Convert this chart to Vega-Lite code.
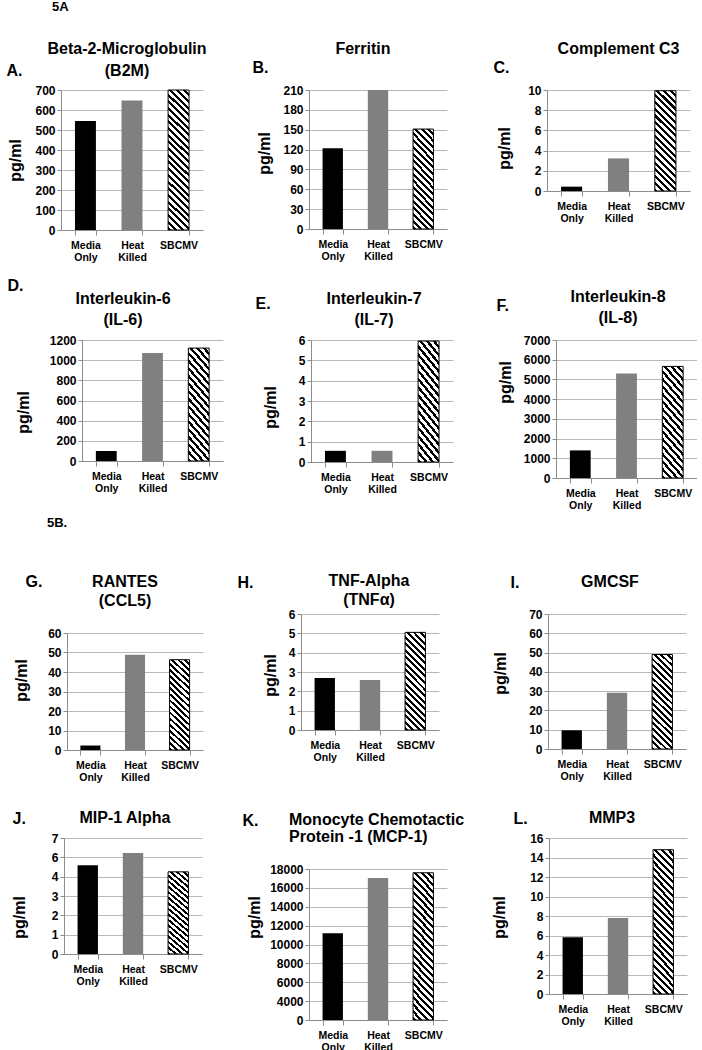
{
"$schema": "https://vega.github.io/schema/vega-lite/v6.json",
"autosize": {"type": "pad"},
"padding": {"left": 0, "top": 1, "right": 0, "bottom": 0},
"datasets": {"d": [
{"p":"A","g":"Media Only","v":545},{"p":"A","g":"Heat Killed","v":648},{"p":"A","g":"SBCMV","v":700},
{"p":"B","g":"Media Only","v":122},{"p":"B","g":"Heat Killed","v":210},{"p":"B","g":"SBCMV","v":151},
{"p":"C","g":"Media Only","v":0.43},{"p":"C","g":"Heat Killed","v":3.23},{"p":"C","g":"SBCMV","v":9.93},
{"p":"D","g":"Media Only","v":99},{"p":"D","g":"Heat Killed","v":1071},{"p":"D","g":"SBCMV","v":1120},
{"p":"E","g":"Media Only","v":0.55},{"p":"E","g":"Heat Killed","v":0.55},{"p":"E","g":"SBCMV","v":5.95},
{"p":"F","g":"Media Only","v":1400},{"p":"F","g":"Heat Killed","v":5300},{"p":"F","g":"SBCMV","v":5660},
{"p":"G","g":"Media Only","v":2.3},{"p":"G","g":"Heat Killed","v":48.9},{"p":"G","g":"SBCMV","v":46.3},
{"p":"H","g":"Media Only","v":2.69},{"p":"H","g":"Heat Killed","v":2.59},{"p":"H","g":"SBCMV","v":5.05},
{"p":"I","g":"Media Only","v":9.7},{"p":"I","g":"Heat Killed","v":29.2},{"p":"I","g":"SBCMV","v":49.0},
{"p":"J","g":"Media Only","v":4.59},{"p":"J","g":"Heat Killed","v":5.22},{"p":"J","g":"SBCMV","v":4.25},
{"p":"K","g":"Media Only","v":11200},{"p":"K","g":"Heat Killed","v":17050},{"p":"K","g":"SBCMV","v":17600},
{"p":"L","g":"Media Only","v":5.81},{"p":"L","g":"Heat Killed","v":7.8},{"p":"L","g":"SBCMV","v":14.8}
]},
"columns": 6,
"bounds": "flush",
"align": "each",
"spacing": {"row": 88, "column": 0},
"concat": [
{"width": 61, "height": 162, "data": {"values": []}, "mark": "point", "title": {"text": "5A", "anchor": "start", "dx": 52, "offset": 76, "fontSize": 13}},
{"width": 142, "height": 140, "title": {"text": ["Beta-2-Microglobulin", "(B2M)"], "dx": -5, "offset": -17, "lineHeight": 22},
 "data": {"name": "d"}, "transform": [{"filter": "datum.p == 'A'"}],
 "encoding": {
  "x": {"field": "g", "type": "nominal", "scale": {"domain": ["Media Only", "Heat Killed", "SBCMV"], "paddingInner": 0.55, "paddingOuter": 0.3}, "axis": {"title": "A.", "titleX": -55, "titleY": -160, "labelExpr": "split(datum.label, ' ')"}},
  "y": {"field": "v", "type": "quantitative", "scale": {"domain": [0, 700], "nice": false}, "axis": {"title": "pg/ml", "titleX": -46, "titleY": 70, "values": [0, 100, 200, 300, 400, 500, 600, 700]}}},
 "layer": [
  {"transform": [{"filter": "datum.g != 'SBCMV'"}], "mark": "bar", "encoding": {"color": {"field": "g", "type": "nominal", "scale": {"domain": ["Media Only", "Heat Killed"], "range": ["#000000", "#808080"]}, "legend": null}}},
  {"transform": [{"filter": "datum.g == 'SBCMV'"}], "mark": {"type": "bar", "style": "hatchA"}}]},
{"width": 78, "height": 1, "data": {"values": []}, "mark": "point"},
{"width": 146, "height": 139, "title": {"text": "Ferritin", "dx": -11, "offset": 2},
 "data": {"name": "d"}, "transform": [{"filter": "datum.p == 'B'"}],
 "encoding": {
  "x": {"field": "g", "type": "nominal", "scale": {"domain": ["Media Only", "Heat Killed", "SBCMV"], "paddingInner": 0.55, "paddingOuter": 0.3, "range": [8, 146]}, "axis": {"title": "B.", "titleX": -49, "titleY": -162, "labelExpr": "split(datum.label, ' ')"}},
  "y": {"field": "v", "type": "quantitative", "scale": {"domain": [0, 210], "nice": false}, "axis": {"offset": -8, "title": "pg/ml", "titleX": -45, "titleY": 63, "values": [0, 30, 60, 90, 120, 150, 180, 210]}}},
 "layer": [
  {"transform": [{"filter": "datum.g != 'SBCMV'"}], "mark": "bar", "encoding": {"color": {"field": "g", "type": "nominal", "scale": {"domain": ["Media Only", "Heat Killed"], "range": ["#000000", "#808080"]}, "legend": null}}},
  {"transform": [{"filter": "datum.g == 'SBCMV'"}], "mark": {"type": "bar", "style": "hatchB"}}]},
{"width": 94, "height": 1, "data": {"values": []}, "mark": "point"},
{"width": 143, "height": 101, "title": {"text": "Complement C3", "dx": 0, "offset": 2},
 "data": {"name": "d"}, "transform": [{"filter": "datum.p == 'C'"}],
 "encoding": {
  "x": {"field": "g", "type": "nominal", "scale": {"domain": ["Media Only", "Heat Killed", "SBCMV"], "paddingInner": 0.55, "paddingOuter": 0.3}, "axis": {"title": "C.", "titleX": -54, "titleY": -124, "labelExpr": "split(datum.label, ' ')"}},
  "y": {"field": "v", "type": "quantitative", "scale": {"domain": [0, 10], "nice": false}, "axis": {"title": "pg/ml", "titleX": -43, "titleY": 58, "values": [0, 2, 4, 6, 8, 10]}}},
 "layer": [
  {"transform": [{"filter": "datum.g != 'SBCMV'"}], "mark": "bar", "encoding": {"color": {"field": "g", "type": "nominal", "scale": {"domain": ["Media Only", "Heat Killed"], "range": ["#000000", "#808080"]}, "legend": null}}},
  {"transform": [{"filter": "datum.g == 'SBCMV'"}], "mark": {"type": "bar", "style": "hatchB"}}]},

{"width": 61, "height": 186, "data": {"values": []}, "mark": "point"},
{"width": 162, "height": 121, "title": {"text": ["Interleukin-6", "(IL-6)"], "dx": -19, "offset": -51, "lineHeight": 21},
 "data": {"name": "d"}, "transform": [{"filter": "datum.p == 'D'"}],
 "encoding": {
  "x": {"field": "g", "type": "nominal", "scale": {"domain": ["Media Only", "Heat Killed", "SBCMV"], "paddingInner": 0.55, "paddingOuter": 0.3, "range": [21, 162]}, "axis": {"title": "D.", "titleX": -54, "titleY": -176, "labelExpr": "split(datum.label, ' ')"}},
  "y": {"field": "v", "type": "quantitative", "scale": {"domain": [0, 1200], "nice": false}, "axis": {"offset": -21, "title": "pg/ml", "titleX": -59, "titleY": 72, "values": [0, 200, 400, 600, 800, 1000, 1200]}}},
 "layer": [
  {"transform": [{"filter": "datum.g != 'SBCMV'"}], "mark": "bar", "encoding": {"color": {"field": "g", "type": "nominal", "scale": {"domain": ["Media Only", "Heat Killed"], "range": ["#000000", "#808080"]}, "legend": null}}},
  {"transform": [{"filter": "datum.g == 'SBCMV'"}], "mark": {"type": "bar", "style": "hatchB"}}]},
{"width": 78, "height": 1, "data": {"values": []}, "mark": "point"},
{"width": 152, "height": 122, "title": {"text": ["Interleukin-7", "(IL-7)"], "dx": -3, "offset": -33, "lineHeight": 21},
 "data": {"name": "d"}, "transform": [{"filter": "datum.p == 'E'"}],
 "encoding": {
  "x": {"field": "g", "type": "nominal", "scale": {"domain": ["Media Only", "Heat Killed", "SBCMV"], "paddingInner": 0.55, "paddingOuter": 0.3, "range": [10, 152]}, "axis": {"title": "E.", "titleX": -46, "titleY": -159, "labelExpr": "split(datum.label, ' ')"}},
  "y": {"field": "v", "type": "quantitative", "scale": {"domain": [0, 6], "nice": false}, "axis": {"offset": -10, "title": "pg/ml", "titleX": -41, "titleY": 67, "values": [0, 1, 2, 3, 4, 5, 6]}}},
 "layer": [
  {"transform": [{"filter": "datum.g != 'SBCMV'"}], "mark": "bar", "encoding": {"color": {"field": "g", "type": "nominal", "scale": {"domain": ["Media Only", "Heat Killed"], "range": ["#000000", "#808080"]}, "legend": null}}},
  {"transform": [{"filter": "datum.g == 'SBCMV'"}], "mark": {"type": "bar", "style": "hatchB"}}]},
{"width": 94, "height": 1, "data": {"values": []}, "mark": "point"},
{"width": 150, "height": 138, "title": {"text": ["Interleukin-8", "(IL-8)"], "dx": -4, "offset": -29, "lineHeight": 21},
 "data": {"name": "d"}, "transform": [{"filter": "datum.p == 'F'"}],
 "encoding": {
  "x": {"field": "g", "type": "nominal", "scale": {"domain": ["Media Only", "Heat Killed", "SBCMV"], "paddingInner": 0.55, "paddingOuter": 0.3, "range": [9, 150]}, "axis": {"title": "F.", "titleX": -51, "titleY": -173, "labelExpr": "split(datum.label, ' ')"}},
  "y": {"field": "v", "type": "quantitative", "scale": {"domain": [0, 7000], "nice": false}, "axis": {"offset": -9, "title": "pg/ml", "titleX": -51, "titleY": 42, "values": [0, 1000, 2000, 3000, 4000, 5000, 6000, 7000]}}},
 "layer": [
  {"transform": [{"filter": "datum.g != 'SBCMV'"}], "mark": "bar", "encoding": {"color": {"field": "g", "type": "nominal", "scale": {"domain": ["Media Only", "Heat Killed"], "range": ["#000000", "#808080"]}, "legend": null}}},
  {"transform": [{"filter": "datum.g == 'SBCMV'"}], "mark": {"type": "bar", "style": "hatchB"}}]},

{"width": 61, "height": 1, "data": {"values": []}, "mark": "point", "title": {"text": "5B.", "anchor": "start", "dx": 47, "offset": 84, "fontSize": 13}},
{"width": 142, "height": 136, "title": {"text": ["RANTES", "(CCL5)"], "dx": -7, "offset": -36, "lineHeight": 19},
 "data": {"name": "d"}, "transform": [{"filter": "datum.p == 'G'"}],
 "encoding": {
  "x": {"field": "g", "type": "nominal", "scale": {"domain": ["Media Only", "Heat Killed", "SBCMV"], "paddingInner": 0.55, "paddingOuter": 0.3, "range": [6, 142]}, "axis": {"title": "G.", "titleX": -36, "titleY": -169, "labelExpr": "split(datum.label, ' ')"}},
  "y": {"field": "v", "type": "quantitative", "scale": {"domain": [0, 60], "nice": false, "range": [136, 19]}, "axis": {"offset": -6, "title": "pg/ml", "titleX": -46, "titleY": 66, "values": [0, 10, 20, 30, 40, 50, 60]}}},
 "layer": [
  {"transform": [{"filter": "datum.g != 'SBCMV'"}], "mark": "bar", "encoding": {"color": {"field": "g", "type": "nominal", "scale": {"domain": ["Media Only", "Heat Killed"], "range": ["#000000", "#808080"]}, "legend": null}}},
  {"transform": [{"filter": "datum.g == 'SBCMV'"}], "mark": {"type": "bar", "style": "hatchB"}}]},
{"width": 78, "height": 1, "data": {"values": []}, "mark": "point"},
{"width": 138, "height": 116, "title": {"text": ["TNF-Alpha", "(TNFα)"], "dx": -1, "offset": -34, "lineHeight": 19},
 "data": {"name": "d"}, "transform": [{"filter": "datum.p == 'H'"}],
 "encoding": {
  "x": {"field": "g", "type": "nominal", "scale": {"domain": ["Media Only", "Heat Killed", "SBCMV"], "paddingInner": 0.55, "paddingOuter": 0.3}, "axis": {"title": "H.", "titleX": -64, "titleY": -148, "labelExpr": "split(datum.label, ' ')"}},
  "y": {"field": "v", "type": "quantitative", "scale": {"domain": [0, 6], "nice": false}, "axis": {"title": "pg/ml", "titleX": -31, "titleY": 61, "values": [0, 1, 2, 3, 4, 5, 6]}}},
 "layer": [
  {"transform": [{"filter": "datum.g != 'SBCMV'"}], "mark": "bar", "encoding": {"color": {"field": "g", "type": "nominal", "scale": {"domain": ["Media Only", "Heat Killed"], "range": ["#000000", "#808080"]}, "legend": null}}},
  {"transform": [{"filter": "datum.g == 'SBCMV'"}], "mark": {"type": "bar", "style": "hatchB"}}]},
{"width": 94, "height": 1, "data": {"values": []}, "mark": "point"},
{"width": 139, "height": 135, "title": {"text": "GMCSF", "dx": -6.5, "offset": -16},
 "data": {"name": "d"}, "transform": [{"filter": "datum.p == 'I'"}],
 "encoding": {
  "x": {"field": "g", "type": "nominal", "scale": {"domain": ["Media Only", "Heat Killed", "SBCMV"], "paddingInner": 0.55, "paddingOuter": 0.3, "range": [1, 139]}, "axis": {"title": "I.", "titleX": -37, "titleY": -167, "labelExpr": "split(datum.label, ' ')"}},
  "y": {"field": "v", "type": "quantitative", "scale": {"domain": [0, 70], "nice": false}, "axis": {"offset": -1, "title": "pg/ml", "titleX": -48, "titleY": 59, "values": [0, 10, 20, 30, 40, 50, 60, 70]}}},
 "layer": [
  {"transform": [{"filter": "datum.g != 'SBCMV'"}], "mark": "bar", "encoding": {"color": {"field": "g", "type": "nominal", "scale": {"domain": ["Media Only", "Heat Killed"], "range": ["#000000", "#808080"]}, "legend": null}}},
  {"transform": [{"filter": "datum.g == 'SBCMV'"}], "mark": {"type": "bar", "style": "hatchB"}}]},

{"width": 61, "height": 1, "data": {"values": []}, "mark": "point"},
{"width": 141, "height": 116, "title": {"text": "MIP-1 Alpha", "dx": -6.5, "offset": -16},
 "data": {"name": "d"}, "transform": [{"filter": "datum.p == 'J'"}],
 "encoding": {
  "x": {"field": "g", "type": "nominal", "scale": {"domain": ["Media Only", "Heat Killed", "SBCMV"], "paddingInner": 0.55, "paddingOuter": 0.3, "range": [3, 141]}, "axis": {"title": "J.", "titleX": -49, "titleY": -136, "labelExpr": "split(datum.label, ' ')"}},
  "y": {"field": "v", "type": "quantitative", "scale": {"domain": [0, 6], "nice": false}, "axis": {"offset": -3, "title": "pg/ml", "titleX": -45, "titleY": 79, "values": [0, 1, 2, 3, 4, 5, 6], "labelExpr": "datum.value == 5 ? '6' : datum.value == 6 ? '7' : datum.label"}}},
 "layer": [
  {"transform": [{"filter": "datum.g != 'SBCMV'"}], "mark": "bar", "encoding": {"color": {"field": "g", "type": "nominal", "scale": {"domain": ["Media Only", "Heat Killed"], "range": ["#000000", "#808080"]}, "legend": null}}},
  {"transform": [{"filter": "datum.g == 'SBCMV'"}], "mark": {"type": "bar", "style": "hatchB"}}]},
{"width": 78, "height": 1, "data": {"values": []}, "mark": "point"},
{"width": 146, "height": 182, "title": {"text": ["Monocyte Chemotactic", "Protein -1 (MCP-1)"], "anchor": "start", "align": "left", "dx": -12, "offset": -33, "lineHeight": 17},
 "data": {"name": "d"}, "transform": [{"filter": "datum.p == 'K'"}],
 "encoding": {
  "x": {"field": "g", "type": "nominal", "scale": {"domain": ["Media Only", "Heat Killed", "SBCMV"], "paddingInner": 0.55, "paddingOuter": 0.3, "range": [8, 146]}, "axis": {"title": "K.", "titleX": -59, "titleY": -200, "labelExpr": "split(datum.label, ' ')"}},
  "y": {"field": "v", "type": "quantitative", "scale": {"domain": [2000, 18000], "nice": false, "zero": false, "range": [182, 31]}, "axis": {"offset": -8, "title": "pg/ml", "titleX": -55, "titleY": 79, "values": [2000, 4000, 6000, 8000, 10000, 12000, 14000, 16000, 18000], "labelExpr": "datum.value == 2000 ? '0' : datum.label"}},
  "y2": {"datum": 2000}},
 "layer": [
  {"transform": [{"filter": "datum.g != 'SBCMV'"}], "mark": "bar", "encoding": {"color": {"field": "g", "type": "nominal", "scale": {"domain": ["Media Only", "Heat Killed"], "range": ["#000000", "#808080"]}, "legend": null}}},
  {"transform": [{"filter": "datum.g == 'SBCMV'"}], "mark": {"type": "bar", "style": "hatchA"}}]},
{"width": 94, "height": 1, "data": {"values": []}, "mark": "point"},
{"width": 140, "height": 156, "title": {"text": "MMP3", "dx": -5, "offset": -16},
 "data": {"name": "d"}, "transform": [{"filter": "datum.p == 'L'"}],
 "encoding": {
  "x": {"field": "g", "type": "nominal", "scale": {"domain": ["Media Only", "Heat Killed", "SBCMV"], "paddingInner": 0.55, "paddingOuter": 0.3, "range": [2, 140]}, "axis": {"title": "L.", "titleX": -34, "titleY": -176, "labelExpr": "split(datum.label, ' ')"}},
  "y": {"field": "v", "type": "quantitative", "scale": {"domain": [0, 16], "nice": false}, "axis": {"offset": -2, "title": "pg/ml", "titleX": -50, "titleY": 79, "values": [0, 2, 4, 6, 8, 10, 12, 14, 16]}}},
 "layer": [
  {"transform": [{"filter": "datum.g != 'SBCMV'"}], "mark": "bar", "encoding": {"color": {"field": "g", "type": "nominal", "scale": {"domain": ["Media Only", "Heat Killed"], "range": ["#000000", "#808080"]}, "legend": null}}},
  {"transform": [{"filter": "datum.g == 'SBCMV'"}], "mark": {"type": "bar", "style": "hatchA"}}]}
],
"config": {
 "view": {"stroke": null},
 "font": "Liberation Sans",
 "numberFormat": "d",
 "title": {"font": "Liberation Sans", "fontSize": 16, "fontWeight": "bold", "color": "#000000", "anchor": "middle", "frame": "group"},
 "axis": {"labelFont": "Liberation Sans", "labelFontWeight": "bold", "labelColor": "#000000", "titleFont": "Liberation Sans", "titleFontWeight": "bold", "titleColor": "#000000", "domainColor": "#8c8c8c", "tickColor": "#8c8c8c", "gridColor": "#b8b8b8"},
 "axisY": {"labelFontSize": 12, "titleFontSize": 16, "tickSize": 4, "labelPadding": 2, "titleAngle": -90, "titleBaseline": "middle", "titleAlign": "center", "grid": true},
 "axisX": {"labelFontSize": 10.5, "labelAngle": 0, "labelLineHeight": 12.5, "tickBand": "extent", "tickSize": 5, "labelPadding": 5, "titleFontSize": 16, "titleAngle": 0, "titleAlign": "left", "titleBaseline": "middle", "grid": false},
 "style": {
  "hatchA": {"stroke": "#000000", "strokeWidth": 1, "color": {"gradient": "linear", "x1": 0, "y1": 1, "x2": 0.1649, "y2": -0.1227, "stops": [
   {"offset":0,"color":"#000"},{"offset":0.0188,"color":"#000"},{"offset":0.0188,"color":"#fff"},{"offset":0.0417,"color":"#fff"},
   {"offset":0.0417,"color":"#000"},{"offset":0.0604,"color":"#000"},{"offset":0.0604,"color":"#fff"},{"offset":0.0833,"color":"#fff"},
   {"offset":0.0833,"color":"#000"},{"offset":0.1021,"color":"#000"},{"offset":0.1021,"color":"#fff"},{"offset":0.125,"color":"#fff"},
   {"offset":0.125,"color":"#000"},{"offset":0.1438,"color":"#000"},{"offset":0.1438,"color":"#fff"},{"offset":0.1667,"color":"#fff"},
   {"offset":0.1667,"color":"#000"},{"offset":0.1854,"color":"#000"},{"offset":0.1854,"color":"#fff"},{"offset":0.2083,"color":"#fff"},
   {"offset":0.2083,"color":"#000"},{"offset":0.2271,"color":"#000"},{"offset":0.2271,"color":"#fff"},{"offset":0.25,"color":"#fff"},
   {"offset":0.25,"color":"#000"},{"offset":0.2688,"color":"#000"},{"offset":0.2688,"color":"#fff"},{"offset":0.2917,"color":"#fff"},
   {"offset":0.2917,"color":"#000"},{"offset":0.3104,"color":"#000"},{"offset":0.3104,"color":"#fff"},{"offset":0.3333,"color":"#fff"},
   {"offset":0.3333,"color":"#000"},{"offset":0.3521,"color":"#000"},{"offset":0.3521,"color":"#fff"},{"offset":0.375,"color":"#fff"},
   {"offset":0.375,"color":"#000"},{"offset":0.3938,"color":"#000"},{"offset":0.3938,"color":"#fff"},{"offset":0.4167,"color":"#fff"},
   {"offset":0.4167,"color":"#000"},{"offset":0.4354,"color":"#000"},{"offset":0.4354,"color":"#fff"},{"offset":0.4583,"color":"#fff"},
   {"offset":0.4583,"color":"#000"},{"offset":0.4771,"color":"#000"},{"offset":0.4771,"color":"#fff"},{"offset":0.5,"color":"#fff"},
   {"offset":0.5,"color":"#000"},{"offset":0.5188,"color":"#000"},{"offset":0.5188,"color":"#fff"},{"offset":0.5417,"color":"#fff"},
   {"offset":0.5417,"color":"#000"},{"offset":0.5604,"color":"#000"},{"offset":0.5604,"color":"#fff"},{"offset":0.5833,"color":"#fff"},
   {"offset":0.5833,"color":"#000"},{"offset":0.6021,"color":"#000"},{"offset":0.6021,"color":"#fff"},{"offset":0.625,"color":"#fff"},
   {"offset":0.625,"color":"#000"},{"offset":0.6438,"color":"#000"},{"offset":0.6438,"color":"#fff"},{"offset":0.6667,"color":"#fff"},
   {"offset":0.6667,"color":"#000"},{"offset":0.6854,"color":"#000"},{"offset":0.6854,"color":"#fff"},{"offset":0.7083,"color":"#fff"},
   {"offset":0.7083,"color":"#000"},{"offset":0.7271,"color":"#000"},{"offset":0.7271,"color":"#fff"},{"offset":0.75,"color":"#fff"},
   {"offset":0.75,"color":"#000"},{"offset":0.7688,"color":"#000"},{"offset":0.7688,"color":"#fff"},{"offset":0.7917,"color":"#fff"},
   {"offset":0.7917,"color":"#000"},{"offset":0.8104,"color":"#000"},{"offset":0.8104,"color":"#fff"},{"offset":0.8333,"color":"#fff"},
   {"offset":0.8333,"color":"#000"},{"offset":0.8521,"color":"#000"},{"offset":0.8521,"color":"#fff"},{"offset":0.875,"color":"#fff"},
   {"offset":0.875,"color":"#000"},{"offset":0.8938,"color":"#000"},{"offset":0.8938,"color":"#fff"},{"offset":0.9167,"color":"#fff"},
   {"offset":0.9167,"color":"#000"},{"offset":0.9354,"color":"#000"},{"offset":0.9354,"color":"#fff"},{"offset":0.9583,"color":"#fff"},
   {"offset":0.9583,"color":"#000"},{"offset":0.9771,"color":"#000"},{"offset":0.9771,"color":"#fff"},{"offset":1,"color":"#fff"}]}},
  "hatchB": {"stroke": "#000000", "strokeWidth": 1, "color": {"gradient": "linear", "x1": 0, "y1": 1, "x2": 0.2434, "y2": -0.1588, "stops": [
   {"offset":0,"color":"#000"},{"offset":0.025,"color":"#000"},{"offset":0.025,"color":"#fff"},{"offset":0.0556,"color":"#fff"},
   {"offset":0.0556,"color":"#000"},{"offset":0.0806,"color":"#000"},{"offset":0.0806,"color":"#fff"},{"offset":0.1111,"color":"#fff"},
   {"offset":0.1111,"color":"#000"},{"offset":0.1361,"color":"#000"},{"offset":0.1361,"color":"#fff"},{"offset":0.1667,"color":"#fff"},
   {"offset":0.1667,"color":"#000"},{"offset":0.1917,"color":"#000"},{"offset":0.1917,"color":"#fff"},{"offset":0.2222,"color":"#fff"},
   {"offset":0.2222,"color":"#000"},{"offset":0.2472,"color":"#000"},{"offset":0.2472,"color":"#fff"},{"offset":0.2778,"color":"#fff"},
   {"offset":0.2778,"color":"#000"},{"offset":0.3028,"color":"#000"},{"offset":0.3028,"color":"#fff"},{"offset":0.3333,"color":"#fff"},
   {"offset":0.3333,"color":"#000"},{"offset":0.3583,"color":"#000"},{"offset":0.3583,"color":"#fff"},{"offset":0.3889,"color":"#fff"},
   {"offset":0.3889,"color":"#000"},{"offset":0.4139,"color":"#000"},{"offset":0.4139,"color":"#fff"},{"offset":0.4444,"color":"#fff"},
   {"offset":0.4444,"color":"#000"},{"offset":0.4694,"color":"#000"},{"offset":0.4694,"color":"#fff"},{"offset":0.5,"color":"#fff"},
   {"offset":0.5,"color":"#000"},{"offset":0.525,"color":"#000"},{"offset":0.525,"color":"#fff"},{"offset":0.5556,"color":"#fff"},
   {"offset":0.5556,"color":"#000"},{"offset":0.5806,"color":"#000"},{"offset":0.5806,"color":"#fff"},{"offset":0.6111,"color":"#fff"},
   {"offset":0.6111,"color":"#000"},{"offset":0.6361,"color":"#000"},{"offset":0.6361,"color":"#fff"},{"offset":0.6667,"color":"#fff"},
   {"offset":0.6667,"color":"#000"},{"offset":0.6917,"color":"#000"},{"offset":0.6917,"color":"#fff"},{"offset":0.7222,"color":"#fff"},
   {"offset":0.7222,"color":"#000"},{"offset":0.7472,"color":"#000"},{"offset":0.7472,"color":"#fff"},{"offset":0.7778,"color":"#fff"},
   {"offset":0.7778,"color":"#000"},{"offset":0.8028,"color":"#000"},{"offset":0.8028,"color":"#fff"},{"offset":0.8333,"color":"#fff"},
   {"offset":0.8333,"color":"#000"},{"offset":0.8583,"color":"#000"},{"offset":0.8583,"color":"#fff"},{"offset":0.8889,"color":"#fff"},
   {"offset":0.8889,"color":"#000"},{"offset":0.9139,"color":"#000"},{"offset":0.9139,"color":"#fff"},{"offset":0.9444,"color":"#fff"},
   {"offset":0.9444,"color":"#000"},{"offset":0.9694,"color":"#000"},{"offset":0.9694,"color":"#fff"},{"offset":1,"color":"#fff"}]}}
 }
}
}
